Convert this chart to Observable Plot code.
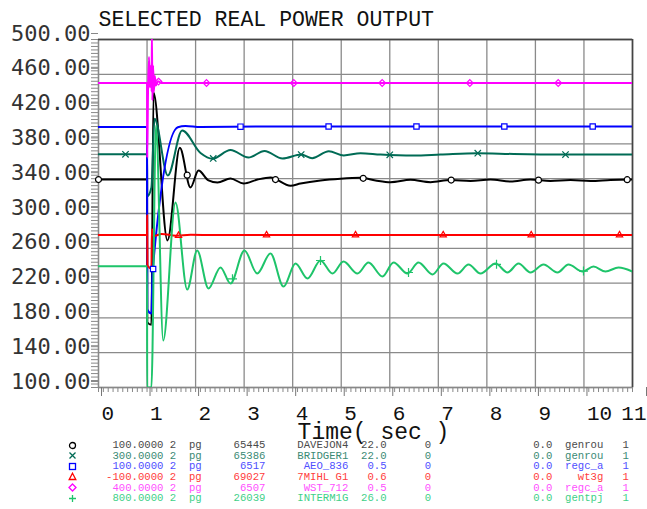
<!DOCTYPE html>
<html><head><meta charset="utf-8">
<script src="https://cdn.jsdelivr.net/npm/d3@7"></script>
<script src="https://cdn.jsdelivr.net/npm/@observablehq/plot@0.6"></script>
<style>
html,body{margin:0;padding:0;background:#fff;overflow:hidden;}
#wrap{position:relative;width:647px;height:509px;}
#legend{position:absolute;left:0;top:0;width:647px;height:509px;font-family:"Liberation Mono",monospace;font-size:10.63px;pointer-events:none;}
.row{position:absolute;left:106px;height:11px;line-height:11px;white-space:pre;}
.sym{position:absolute;left:67.5px;width:9px;height:9px;}
</style></head><body><div id="wrap"><div id="chart"></div><div id="legend"></div></div>
<script>
// ---- axis ticks ----
const xMajor = d3.range(0, 11);          // labelled 0..10 (11 handled separately)
const xGrid = d3.range(0, 12);
const xMinor = d3.range(0, 111).map(i => i / 10);
const yMajor = d3.range(100, 501, 40);
const yMinor = d3.range(100, 501, 4);

// ---- series [time (s), value] ----
const blackSeries = [[0,339],[1.0,339],[1.005,175],[1.09,172],[1.133,439],[1.421,269],[1.675,375.5],[1.895,330],[2.06,349.4],[2.266,338],[2.451,335.6],[2.719,340.2],[2.987,334.5],[3.275,339],[3.543,341.4],[3.955,332],[4.161,334.5],[4.573,338],[4.985,340],[5.397,341],[5.706,338],[6.015,336],[6.427,338.7],[6.839,336],[7.251,338.5],[7.663,337.4],[8.075,339],[8.487,336.8],[8.899,339],[9.311,337.4],[9.723,338.5],[10.135,337.4],[10.547,338.5],[11,339]];
const tealSeries = [[0,368],[1.0,368],[1.005,320],[1.09,330],[1.154,409],[1.428,343.7],[1.724,395.4],[2.101,369.5],[2.348,362.9],[2.719,373],[3.09,364.4],[3.42,371.8],[3.79,363.2],[4.175,367.8],[4.402,363.6],[4.744,371.6],[5.053,366.7],[5.397,369.3],[5.809,367.8],[6.489,366.7],[7.045,367.8],[7.801,369.3],[8.549,368.4],[9.517,367.8],[11,367.8]];
const blueSeries = [[0,399.4],[1.0,399.4],[1.005,190],[1.09,185],[1.112,232],[1.634,399.2],[1.792,400.6],[2.1,399.4],[3.337,400],[11,400]];
const redSeries = [[0,275.3],[1.0,275.3],[1.003,298],[1.008,240],[1.09,236.8],[1.1,282],[1.14,274],[1.3,276.5],[1.6,274.5],[1.9,275.5],[2.4,275.3],[11,275.3]];
const magentaSeries = [[0,450],[1.0,450],[1.003,364],[1.02,440],[1.04,480],[1.06,445],[1.08,470],[1.095,440],[1.1,510],[1.11,430],[1.125,470],[1.14,440],[1.16,458],[1.18,447],[1.22,452],[1.3,450],[11,450]];
const greenSeries = [[0,239.5],[1.0,239.5],[1.003,100],[1.09,100],[1.184,401],[1.333,154],[1.586,312.6],[1.827,212.6],[2.033,257.5],[2.266,213.8],[2.513,238],[2.719,219.5],[3.007,257.5],[3.269,231],[3.543,254],[3.811,216],[4.058,242.5],[4.305,225.3],[4.573,246],[4.82,231],[5.047,244.8],[5.335,231],[5.562,243.7],[5.85,227.6],[6.077,243.7],[6.365,231],[6.592,243.7],[6.88,229.9],[7.107,242.5],[7.395,231],[7.622,241.4],[7.869,231],[8.178,242.5],[8.425,232.2],[8.652,242.5],[8.899,232.2],[9.167,241.4],[9.455,232.2],[9.681,241.4],[9.97,233.3],[10.197,239],[10.444,233.3],[10.712,237.9],[11,233.3]];

// ---- marker times ----
const blackMarks = [0, 1.827, 3.646, 5.453, 7.265, 9.064, 10.891];
const tealMarks = [0.556, 2.363, 4.175, 6.0, 7.813, 9.62];
const blueMarks = [1.125, 2.925, 4.74, 6.55, 8.36, 10.18];
const redMarks = [1.648, 3.461, 5.294, 7.1, 8.913, 10.732];
const magentaMarks = [1.236, 2.225, 4.023, 5.844, 7.649, 9.47];
const greenMarks = [2.76, 4.573, 6.386, 8.199, 9.99];

// ---- legend table ----
const legendValues = ["100.0000","300.0000","100.0000","-100.0000","400.0000","800.0000"];
const legendBus = ["65445","65386","6517","69027","6507","26039"];
const legendNames = ["DAVEJON4","BRIDGER1","AEO_836","7MIHL G1","WST_712","INTERM1G"];
const legendKV = ["22.0","22.0","0.5","0.6","0.5","26.0"];
const legendModels = ["genrou","genrou","regc_a","wt3g","regc_a","gentpj"];

const lineColors = ["#000000","#006b55","#0000ff","#ff0000","#ff00ff","#1ec46a"];
const textColors = ["#4a4a4a","#3a8a74","#4f4fff","#ff3c3c","#ff4fff","#3fd088"];
const symbols = ["circle","times","square","triangle2","diamond2","plus"];

const allSeries = [blackSeries, tealSeries, blueSeries, redSeries, magentaSeries, greenSeries];
const allMarks = [blackMarks, tealMarks, blueMarks, redMarks, magentaMarks, greenMarks];

function toRows(s) { return s.map(([t, v]) => ({t, v})); }
function interp(s, t) {
  for (let i = 1; i < s.length; i++) {
    if (t <= s[i][0]) {
      const [t0, v0] = s[i-1], [t1, v1] = s[i];
      return v0 + (v1 - v0) * (t - t0) / (t1 - t0);
    }
  }
  return s[s.length-1][1];
}

const lineMarks = allSeries.map((s, i) => Plot.line(toRows(s), {
  x: "t", y: "v", stroke: lineColors[i], strokeWidth: 2, curve: "monotone-x", clip: true
}));
const dotMarks = allMarks.map((m, i) => Plot.dot(m.map(t => ({t, v: interp(allSeries[i], t)})), {
  x: "t", y: "v", symbol: () => symbols[i], r: 3,
  stroke: lineColors[i], strokeWidth: 1.2,
  fill: (symbols[i] === "circle" || symbols[i] === "square") ? "white" : "none"
}));

const mono = "Liberation Mono";
const chart = Plot.plot({
  width: 647, height: 440,
  marginLeft: 98, marginRight: 15, marginTop: 39, marginBottom: 53,
  x: {domain: [0, 11], label: null},
  y: {domain: [100, 500], label: null},
  symbol: {type: "identity"},
  style: {background: "white", overflow: "visible"},
  marks: [
    Plot.gridX(xGrid, {stroke: "#8a8a8a", strokeOpacity: 1, strokeWidth: 1.3}),
    Plot.gridY(yMajor, {stroke: "#8a8a8a", strokeOpacity: 1, strokeWidth: 1.3}),
    Plot.frame({stroke: "#888", strokeWidth: 1.3}),
    Plot.ruleY([500], {stroke: "#444", strokeWidth: 1.5}),
    Plot.ruleX([11], {stroke: "#444", strokeWidth: 1.5}),
    Plot.axisX(xMinor, {tickSize: 5, tickFormat: () => "", stroke: "#888", label: null}),
    Plot.axisX(xMajor, {tickSize: 9, tickPadding: 9, textAnchor: "start", dx: 3, fontSize: 21, fontFamily: mono, fill: "#111", stroke: "#777", label: null, tickFormat: d => String(d)}),
    Plot.axisX([11], {tickSize: 9, tickPadding: 9, textAnchor: "end", dx: 14, fontSize: 21, fontFamily: mono, fill: "#111", stroke: "#777", label: null, tickFormat: d => String(d)}),
    Plot.axisY(yMinor, {tickSize: 7, tickFormat: () => "", stroke: "#888", label: null}),
    Plot.axisY(yMajor, {tickSize: 7, tickPadding: 1, dy: -6, tickFormat: d3.format(".2f"), fontSize: 22, fontFamily: "DejaVu Sans Mono", fill: "#333", stroke: "#888", label: null}),
    ...lineMarks,
    ...dotMarks,
    Plot.text(["SELECTED REAL POWER OUTPUT"], {text: d => d, frameAnchor: "top-left", textAnchor: "start", lineAnchor: "bottom", dy: -14, fontSize: 21.5, fontFamily: mono, fill: "#111"}),
    Plot.text(["Time( sec )"], {text: d => d, frameAnchor: "bottom", lineAnchor: "bottom", dy: 51, dx: 8, fontSize: 23, fontFamily: mono, fill: "#111"})
  ]
});
document.getElementById("chart").appendChild(chart);

// ---- legend (HTML) ----
function place(arr, endCol, str) {
  const start = endCol - str.length + 1;
  for (let k = 0; k < str.length; k++) arr[start + k] = str[k];
}
const legend = document.getElementById("legend");
const symSvg = [
  c => `<circle cx="4.5" cy="4.5" r="3" fill="none" stroke="${c}" stroke-width="1.3"/>`,
  c => `<path d="M1.5,1.5L7.5,7.5M7.5,1.5L1.5,7.5" stroke="${c}" stroke-width="1.3"/>`,
  c => `<rect x="1.5" y="1.5" width="6" height="6" fill="none" stroke="${c}" stroke-width="1.3"/>`,
  c => `<path d="M4.5,1.2L7.8,7.5L1.2,7.5Z" fill="none" stroke="${c}" stroke-width="1.3"/>`,
  c => `<path d="M4.5,1L8,4.5L4.5,8L1,4.5Z" fill="none" stroke="${c}" stroke-width="1.3"/>`,
  c => `<path d="M4.5,1V8M1,4.5H8" stroke="${c}" stroke-width="1.3"/>`
];
for (let i = 0; i < 6; i++) {
  const arr = new Array(82).fill(" ");
  place(arr, 8, legendValues[i]);
  place(arr, 10, "2");
  place(arr, 14, "pg");
  place(arr, 24, legendBus[i]);
  place(arr, 37, legendNames[i]);
  place(arr, 43, legendKV[i]);
  place(arr, 50, "0");
  place(arr, 69, "0.0");
  place(arr, 77, legendModels[i]);
  place(arr, 81, "1");
  const center = 445 + 10.65 * i;
  const row = document.createElement("div");
  row.className = "row";
  row.style.top = (center - 5.1) + "px";
  row.style.color = textColors[i];
  row.textContent = arr.join("");
  legend.appendChild(row);
  const s = document.createElement("div");
  s.className = "sym";
  s.style.top = (center - 4.5) + "px";
  s.innerHTML = `<svg width="9" height="9">${symSvg[i](lineColors[i])}</svg>`;
  legend.appendChild(s);
}
</script></body></html>
